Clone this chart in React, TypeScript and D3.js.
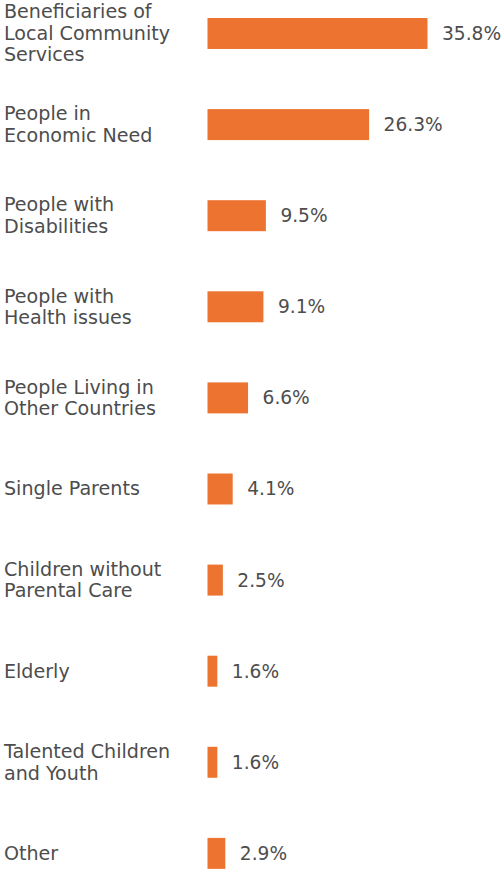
import React from "react";
import * as d3 from "d3";

const categories: string[][] = [
  ["Beneficiaries of", "Local Community", "Services"],
  ["People in", "Economic Need"],
  ["People with", "Disabilities"],
  ["People with", "Health issues"],
  ["People Living in", "Other Countries"],
  ["Single Parents"],
  ["Children without", "Parental Care"],
  ["Elderly"],
  ["Talented Children", "and Youth"],
  ["Other"],
];
const values: number[] = [35.8, 26.3, 9.5, 9.1, 6.6, 4.1, 2.5, 1.6, 1.6, 2.9];
const valueLabels: string[] = ["35.8%", "26.3%", "9.5%", "9.1%", "6.6%", "4.1%", "2.5%", "1.6%", "1.6%", "2.9%"];

const W = 503;
const H = 870;
const BAR_X = 207.5;
const FONT = "'DejaVu Sans', sans-serif";
const TEXT_COLOR = "#4d4d4d";
const BAR_COLOR = "#ED7430";
const LINE_H = 21.5;
const FS_LABEL = 19.1;
const FS_VALUE = 18.6;

export default function App() {
  const ids = categories.map((_, i) => String(i));
  const x = d3.scaleLinear().domain([0, 35.8]).range([0, 220]);
  const y = d3
    .scaleBand<string>()
    .domain(ids)
    .range([-12.06, 898.94])
    .paddingInner(0.66)
    .paddingOuter(0.33);

  return (
    <svg
      width={W}
      height={H}
      style={{ position: "absolute", left: 0, top: 0, background: "#fff" }}
    >
      {ids.map((id, i) => {
        const y0 = y(id)!;
        const bw = y.bandwidth();
        const cy = y0 + bw / 2;
        const lines = categories[i];
        const n = lines.length;
        return (
          <g key={id}>
            <text x={4} fontFamily={FONT} fontSize={FS_LABEL} fill={TEXT_COLOR}>
              {lines.map((ln, j) => (
                <tspan
                  key={j}
                  x={4}
                  y={cy + (j - (n - 1) / 2) * LINE_H + 6.5}
                >
                  {ln}
                </tspan>
              ))}
            </text>
            <rect
              x={BAR_X}
              y={y0}
              width={x(values[i])}
              height={bw}
              fill={BAR_COLOR}
            />
            <text
              x={BAR_X + x(values[i]) + 14.5}
              y={cy + 6.5}
              fontFamily={FONT}
              fontSize={FS_VALUE}
              fill={TEXT_COLOR}
            >
              {valueLabels[i]}
            </text>
          </g>
        );
      })}
    </svg>
  );
}
